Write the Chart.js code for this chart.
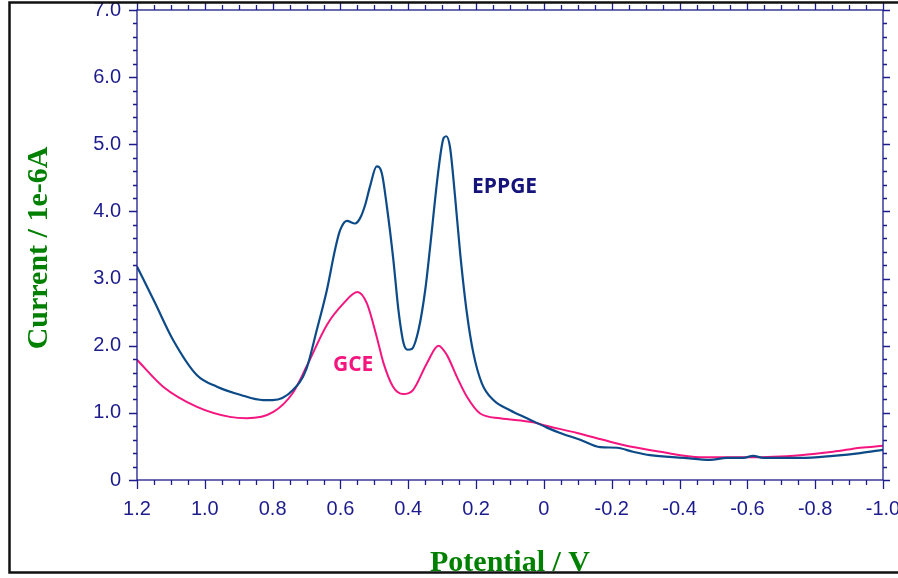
<!DOCTYPE html>
<html>
<head>
<meta charset="utf-8">
<script src="https://cdn.jsdelivr.net/npm/chart.js@4.4.1/dist/chart.umd.min.js"></script>
<style>
    html, body { margin: 0; padding: 0; background: #fff; }
    #wrap { width: 898px; height: 578px; }
</style>
</head>
<body>
<div id="wrap"><canvas id="c"></canvas></div>
<script>
// potential (V) / current (1e-6 A), sweep from +1.2 down to -1.0
const eppgePotential = [1.20, 1.147, 1.094, 1.023, 0.964, 0.896, 0.828, 0.80, 0.74, 0.70, 0.670, 0.640, 0.616,
    0.601, 0.581, 0.557, 0.542, 0.527, 0.513, 0.493, 0.478, 0.463, 0.444, 0.429, 0.414, 0.402, 0.390, 0.370,
    0.350, 0.336, 0.311, 0.296, 0.288, 0.277, 0.262, 0.247, 0.227, 0.208, 0.183, 0.149, 0.100, 0.050, -0.009,
    -0.048, -0.107, -0.166, -0.216, -0.263, -0.313, -0.411, -0.490, -0.540, -0.588, -0.617, -0.647, -0.756,
    -0.853, -0.933, -1.00];
const eppgeCurrent = [3.18, 2.64, 2.09, 1.56, 1.39, 1.27, 1.19, 1.19, 1.34, 1.66, 2.23, 2.83, 3.43,
    3.72, 3.86, 3.82, 3.90, 4.10, 4.37, 4.67, 4.57, 4.07, 3.28, 2.53, 2.04, 1.94, 1.95, 2.23,
    2.83, 3.45, 4.62, 5.09, 5.12, 4.96, 4.22, 3.38, 2.48, 1.89, 1.44, 1.19, 1.04, 0.92, 0.78,
    0.70, 0.60, 0.49, 0.48, 0.42, 0.37, 0.33, 0.30, 0.33, 0.33, 0.36, 0.33, 0.33,
    0.36, 0.40, 0.45];

const gcePotential = [1.20, 1.123, 1.023, 0.926, 0.876, 0.799, 0.740, 0.700, 0.640, 0.591, 0.550, 0.522,
    0.493, 0.473, 0.445, 0.415, 0.386, 0.345, 0.311, 0.286, 0.257, 0.227, 0.188, 0.129, 0.032, 0.003,
    -0.098, -0.195, -0.263, -0.343, -0.461, -0.608, -0.756, -0.853, -0.933, -1.00];
const gceCurrent = [1.79, 1.39, 1.09, 0.94, 0.92, 1.01, 1.30, 1.69, 2.31, 2.63, 2.80, 2.63,
    2.13, 1.74, 1.39, 1.28, 1.34, 1.74, 2.00, 1.86, 1.54, 1.24, 0.99, 0.92, 0.86, 0.82,
    0.70, 0.57, 0.49, 0.42, 0.34, 0.34, 0.37, 0.42, 0.48, 0.51];

const seriesNames = ['EPPGE', 'GCE'];
const seriesLabelAt = [[0.212, 4.36], [0.622, 1.71]];   // where each curve name sits (V, 1e-6 A)

const xTitle = 'Potential / V';
const yTitle = 'Current / 1e-6A';

const AXIS = '#1c1c8c';
const BLUE = '#0d4a88';
const PINK = '#f5157f';
const GREEN = '#008000';
const TICK_FAMILY = '"Liberation Sans", Arial, sans-serif';

const toPoints = (xs, ys) => xs.map((x, i) => ({ x: x, y: ys[i] }));
const fmt = v => Math.abs(v) < 1e-9 ? '0' : v.toFixed(1);

// frame, tick marks on all four sides, axis titles and curve names
const decor = {
    id: 'decor',
    afterDraw(chart) {
        const ctx = chart.ctx;
        const a = chart.chartArea;
        const xs = chart.scales.x;
        const ys = chart.scales.y;
        ctx.save();

        ctx.strokeStyle = AXIS;
        ctx.lineWidth = 1.3;
        ctx.strokeRect(a.left, a.top, a.right - a.left, a.bottom - a.top);

        ctx.beginPath();
        for (let i = 0; i <= 44; i++) {
            const px = Math.round(xs.getPixelForValue(-1 + i * 0.05)) + 0.5;
            const major = i % 4 === 0;
            ctx.moveTo(px, a.bottom); ctx.lineTo(px, a.bottom + (major ? 9 : 5));
            ctx.moveTo(px, a.top); ctx.lineTo(px, a.top - (major ? 8 : 5));
        }
        for (let i = 0; i <= 35; i++) {
            const py = Math.round(ys.getPixelForValue(i * 0.2)) + 0.5;
            const major = i % 5 === 0;
            ctx.moveTo(a.left, py); ctx.lineTo(a.left - (major ? 8 : 4), py);
            ctx.moveTo(a.right, py); ctx.lineTo(a.right + (major ? 7 : 4), py);
        }
        ctx.stroke();

        // axis titles
        ctx.fillStyle = GREEN;
        ctx.font = 'bold 30px "Liberation Serif", "Times New Roman", serif';
        ctx.textAlign = 'center';
        ctx.textBaseline = 'alphabetic';
        ctx.fillText(xTitle, (a.left + a.right) / 2, 571);
        ctx.save();
        ctx.translate(47, (a.top + a.bottom) / 2 + 3);
        ctx.rotate(-Math.PI / 2);
        ctx.fillText(yTitle, 0, 0);
        ctx.restore();

        // curve names
        ctx.font = 'bold 21px "Open Sans", "Noto Sans", sans-serif';
        ctx.textAlign = 'left';
        ctx.textBaseline = 'middle';
        ctx.fillStyle = '#14147a';
        ctx.fillText(seriesNames[0], xs.getPixelForValue(seriesLabelAt[0][0]), ys.getPixelForValue(seriesLabelAt[0][1]));
        ctx.fillStyle = PINK;
        ctx.fillText(seriesNames[1], xs.getPixelForValue(seriesLabelAt[1][0]), ys.getPixelForValue(seriesLabelAt[1][1]));

        // outer frame
        ctx.strokeStyle = '#111';
        ctx.lineWidth = 2.5;
        ctx.beginPath();
        ctx.moveTo(898, 2.5); ctx.lineTo(9.5, 2.5); ctx.lineTo(9.5, 572.5); ctx.lineTo(898, 572.5);
        ctx.stroke();
        ctx.restore();
    }
};

new Chart(document.getElementById('c').getContext('2d'), {
    type: 'scatter',
    data: {
        datasets: [{
            label: seriesNames[0],
            data: toPoints(eppgePotential, eppgeCurrent),
            borderColor: BLUE,
            borderWidth: 2.2,
            showLine: true,
            pointRadius: 0,
            cubicInterpolationMode: 'monotone'
        }, {
            label: seriesNames[1],
            data: toPoints(gcePotential, gceCurrent),
            borderColor: PINK,
            borderWidth: 2,
            showLine: true,
            pointRadius: 0,
            cubicInterpolationMode: 'monotone'
        }]
    },
    options: {
        responsive: true,
        maintainAspectRatio: false,
        animation: false,
        layout: { padding: { top: 10, right: 15, left: 0, bottom: 0 } },
        plugins: {
            legend: { display: false },
            tooltip: { enabled: false }
        },
        scales: {
            x: {
                type: 'linear',
                reverse: true,
                min: -1.0,
                max: 1.2,
                border: { display: false },
                grid: { display: false, drawTicks: false },
                ticks: {
                    stepSize: 0.2,
                    padding: 17,
                    color: AXIS,
                    font: { family: TICK_FAMILY, size: 20 },
                    maxRotation: 0,
                    autoSkip: false,
                    callback: v => fmt(v)
                },
                afterFit: s => { s.height = 98; s.paddingLeft = 0; s.paddingRight = 0; }
            },
            y: {
                min: 0,
                max: 7.0,
                border: { display: false },
                grid: { display: false, drawTicks: false },
                ticks: {
                    stepSize: 1,
                    padding: 16,
                    color: AXIS,
                    font: { family: TICK_FAMILY, size: 20 },
                    callback: v => fmt(v)
                },
                afterFit: s => { s.width = 137; s.paddingTop = 0; s.paddingBottom = 0; }
            }
        }
    },
    plugins: [decor]
});
</script>
</body>
</html>
